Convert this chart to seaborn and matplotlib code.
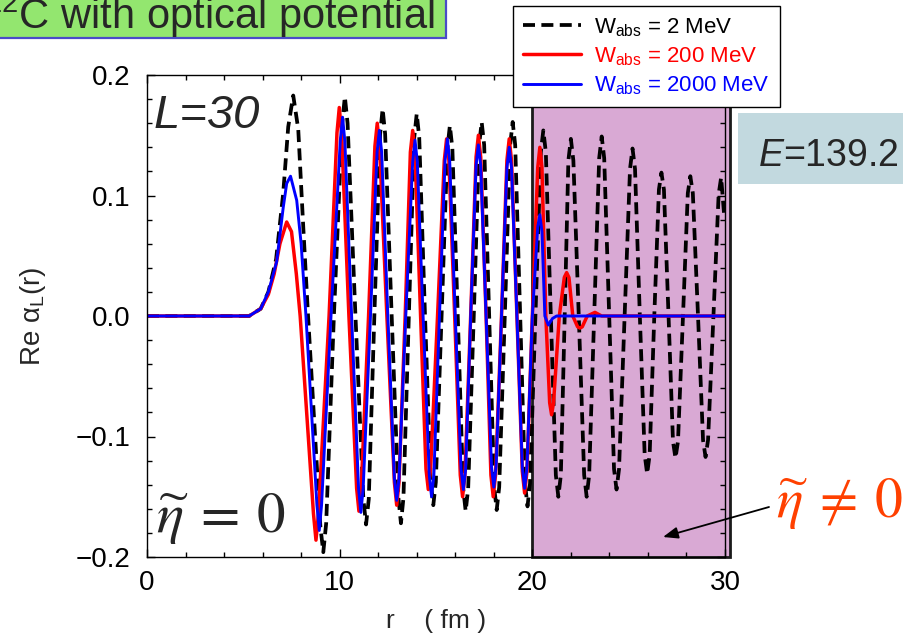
import numpy as np
import pandas as pd
import matplotlib
matplotlib.use("Agg")
import matplotlib.pyplot as plt
import seaborn as sns
from matplotlib.patches import Rectangle
from matplotlib.ticker import MultipleLocator

# ---- data (r in fm, Re alpha_L(r)) ----
r_w2 = [0, 5.3, 5.9, 6.3, 6.7, 7.07, 7.33, 7.59, 7.85, 8.11, 8.36, 9.0, 9.15, 9.3, 9.7,
        10.13, 10.27, 10.41, 10.82, 11.23, 11.37, 11.51, 11.8, 12.1, 12.23, 12.36, 12.7,
        13.05, 13.18, 13.31, 13.59, 13.87, 14.0, 14.13, 14.43, 14.73, 14.86, 14.99, 15.29,
        15.59, 15.72, 15.85, 16.13, 16.41, 16.54, 16.67, 16.96, 17.24, 17.37, 17.5, 17.76,
        18.02, 18.15, 18.28, 18.57, 18.85, 18.98, 19.11, 19.37, 19.62, 19.75, 19.88, 20.16,
        20.44, 20.57, 20.7, 20.96, 21.22, 21.35, 21.48, 21.68, 21.87, 22.0, 22.13, 22.41,
        22.69, 22.82, 22.95, 23.21, 23.47, 23.6, 23.73, 23.99, 24.24, 24.37, 24.5, 24.79,
        25.07, 25.2, 25.33, 25.58, 25.83, 25.96, 26.09, 26.33, 26.57, 26.7, 26.83, 27.07,
        27.3, 27.43, 27.56, 27.82, 28.07, 28.2, 28.33, 28.6, 28.86, 28.99, 29.12, 29.4,
        29.67, 29.8, 29.95]
v_w2 = [0, 0, 0.006, 0.02, 0.047, 0.102, 0.157, 0.183, 0.155, 0.074, 0.0, -0.175, -0.196, -0.172, 0.0,
        0.160, 0.182, 0.160, 0.0, -0.152, -0.173, -0.152, 0.0, 0.151, 0.172, 0.151, 0.0,
        -0.151, -0.172, -0.151, 0.0, 0.148, 0.168, 0.148, 0.0, -0.138, -0.157, -0.138, 0.0,
        0.139, 0.158, 0.139, 0.0, -0.143, -0.162, -0.143, 0.0, 0.142, 0.161, 0.142, 0.0,
        -0.142, -0.161, -0.142, 0.0, 0.142, 0.161, 0.142, 0.0, -0.139, -0.158, -0.139, 0.0,
        0.136, 0.154, 0.136, 0.0, -0.132, -0.150, -0.132, 0.0, 0.129, 0.147, 0.129, 0.0,
        -0.132, -0.150, -0.132, 0.0, 0.131, 0.149, 0.131, 0.0, -0.127, -0.144, -0.127, 0.0,
        0.122, 0.139, 0.122, 0.0, -0.115, -0.131, -0.115, 0.0, 0.105, 0.119, 0.105, 0.0,
        -0.104, -0.118, -0.104, 0.0, 0.102, 0.116, 0.102, 0.0, -0.103, -0.117, -0.103, 0.0,
        0.101, 0.115, 0.085]

r_w200 = [0, 5.3, 5.9, 6.3, 6.6, 6.9, 7.25, 7.5, 7.75, 7.95, 8.64, 8.77, 8.9, 9.45,
          9.86, 9.98, 10.1, 10.48, 10.88, 11.0, 11.12, 11.5, 11.83, 11.95, 12.07, 12.45,
          12.84, 12.96, 13.08, 13.4, 13.67, 13.79, 13.91, 14.2, 14.48, 14.6, 14.72, 15.08,
          15.43, 15.55, 15.67, 15.97, 16.26, 16.38, 16.5, 16.8, 17.08, 17.2, 17.32, 17.6,
          17.85, 17.97, 18.09, 18.4, 18.68, 18.8, 18.92, 19.2, 19.48, 19.6, 19.72, 20.0,
          20.28, 20.39, 20.5, 20.7, 20.9, 21.0, 21.1, 21.4, 21.66, 21.78, 21.9, 22.1,
          22.35, 22.47, 22.59, 22.85, 23.25, 23.6, 30.0]
v_w200 = [0, 0, 0.006, 0.018, 0.035, 0.06, 0.078, 0.07, 0.035, 0.0, -0.164, -0.186, -0.164, 0.0,
          0.152, 0.173, 0.152, 0.0, -0.143, -0.162, -0.143, 0.0, 0.141, 0.160, 0.141, 0.0,
          -0.138, -0.157, -0.138, 0.0, 0.136, 0.154, 0.136, 0.0, -0.127, -0.144, -0.127, 0.0,
          0.129, 0.147, 0.129, 0.0, -0.132, -0.150, -0.132, 0.0, 0.132, 0.150, 0.132, 0.0,
          -0.132, -0.150, -0.132, 0.0, 0.129, 0.147, 0.129, 0.0, -0.129, -0.147, -0.129, 0.0,
          0.123, 0.140, 0.123, 0.0, -0.072, -0.082, -0.072, 0.0, 0.032, 0.036, 0.032, 0.0,
          -0.009, -0.010, -0.009, 0.0, 0.003, 0.0, 0.0]

r_w2000 = [0, 5.3, 5.9, 6.3, 6.73, 7.07, 7.25, 7.45, 7.77, 8.0, 8.25, 8.82, 8.94, 9.06, 9.55,
           10.03, 10.15, 10.27, 10.62, 10.98, 11.1, 11.22, 11.6, 11.94, 12.06, 12.18, 12.5,
           12.84, 12.96, 13.08, 13.43, 13.79, 13.91, 14.03, 14.33, 14.65, 14.77, 14.89, 15.18,
           15.47, 15.59, 15.71, 16.0, 16.3, 16.42, 16.54, 16.8, 17.08, 17.2, 17.32, 17.6,
           17.88, 18.0, 18.12, 18.4, 18.68, 18.8, 18.92, 19.2, 19.48, 19.6, 19.72, 20.0,
           20.28, 20.39, 20.5, 20.65, 20.83, 21.05, 21.26, 30.0]
v_w2000 = [0, 0, 0.006, 0.02, 0.045, 0.09, 0.11, 0.116, 0.096, 0.06, 0.0, -0.157, -0.178, -0.157, 0.0,
           0.145, 0.165, 0.145, 0.0, -0.143, -0.163, -0.143, 0.0, 0.136, 0.154, 0.136, 0.0,
           -0.135, -0.153, -0.135, 0.0, 0.128, 0.146, 0.128, 0.0, -0.132, -0.150, -0.132, 0.0,
           0.129, 0.147, 0.129, 0.0, -0.127, -0.144, -0.127, 0.0, 0.125, 0.142, 0.125, 0.0,
           -0.125, -0.142, -0.125, 0.0, 0.123, 0.140, 0.123, 0.0, -0.126, -0.143, -0.126, 0.0,
           0.074, 0.084, 0.070, 0.0, -0.0075, -0.002, 0.0, 0.0]

labels = [r"W$_{\rm abs}$ = 2 MeV", r"W$_{\rm abs}$ = 200 MeV", r"W$_{\rm abs}$ = 2000 MeV"]
x_ticks = [0, 10, 20, 30]
y_ticks = [-0.2, -0.1, 0.0, 0.1, 0.2]
y_ticklabels = ["\u22120.2", "\u22120.1", "0.0", "0.1", "0.2"]

# ---- style ----
sns.set_style("ticks")
plt.rcParams["font.family"] = ["Liberation Sans", "DejaVu Sans"]
plt.rcParams["mathtext.fontset"] = "custom"
plt.rcParams["mathtext.rm"] = "Liberation Sans"
plt.rcParams["mathtext.it"] = "Liberation Sans:italic"

W, H = 904, 637
fig = plt.figure(figsize=(W / 100, H / 100), dpi=100)
ax = fig.add_axes([147 / W, 1 - 557 / H, (725 - 147) / W, (557 - 75) / H])

# shaded region (behind curves)
ax.add_patch(Rectangle((20.0, -0.2), 10.25, 0.4, facecolor="#d9a9d4", edgecolor="#1a1a1a",
                       lw=2.0, clip_on=False, zorder=0.5))

df2 = pd.DataFrame({"r": r_w2, "v": v_w2})
df200 = pd.DataFrame({"r": r_w200, "v": v_w200})
df2000 = pd.DataFrame({"r": r_w2000, "v": v_w2000})

sns.lineplot(data=df2, x="r", y="v", ax=ax, color="black", lw=2.7, linestyle=(0, (3.2, 1.7)),
             label=labels[0], estimator=None, zorder=2)
sns.lineplot(data=df200, x="r", y="v", ax=ax, color="#ff0000", lw=2.5,
             label=labels[1], estimator=None, zorder=3)
sns.lineplot(data=df2000, x="r", y="v", ax=ax, color="#0000ff", lw=2.1,
             label=labels[2], estimator=None, zorder=4)

ax.set_xlim(0, 30)
ax.set_ylim(-0.2, 0.2)
ax.set_xticks(x_ticks)
ax.set_yticks(y_ticks)
ax.set_yticklabels(y_ticklabels)
ax.xaxis.set_minor_locator(MultipleLocator(2))
ax.yaxis.set_minor_locator(MultipleLocator(0.02))
ax.tick_params(which="both", direction="in", top=True, right=True, width=1.0, colors="black")
ax.tick_params(which="major", length=6, labelsize=20)
ax.tick_params(which="minor", length=3.5)
ax.tick_params(axis="y", pad=12)
ax.tick_params(axis="x", pad=9)
for s in ax.spines.values():
    s.set_linewidth(1.0)
    s.set_color("black")
    s.set_zorder(6)

ax.set_xlabel("r    ( fm )", fontsize=19, labelpad=10)
ax.set_ylabel(r"Re α$_{\rm L}$(r)", fontsize=20, labelpad=20)

# legend in figure coordinates
handles, labs = ax.get_legend_handles_labels()
ax.get_legend().remove()
leg = fig.legend(handles, labs, loc="upper left", bbox_to_anchor=(513 / W, 1 - 6 / H),
                 fontsize=16, frameon=True, fancybox=False, framealpha=1, edgecolor="black",
                 handlelength=2.6, handletextpad=0.6, labelspacing=0.3, borderpad=0.45,
                 borderaxespad=0)
leg.get_frame().set_linewidth(1.0)
for t, c in zip(leg.get_texts(), ["black", "#ff0000", "#0000ff"]):
    t.set_color(c)

# annotations inside axes
ax.text(0.012, 0.96, "L=30", transform=ax.transAxes, fontsize=34, style="italic",
        ha="left", va="top", zorder=7)
ax.text(0.016, 0.05, r"$\widetilde{\eta}\:=\:0$", transform=ax.transAxes, fontsize=41,
        math_fontfamily="stix", ha="left", va="baseline", zorder=7)

# title box (top left)
fig.patches.append(Rectangle((-0.01, 1 - 38 / H), 446 / W + 0.01, 38 / H + 0.01,
                             transform=fig.transFigure, facecolor="#93e66f",
                             edgecolor="#4a4ac8", lw=1.6, figure=fig, zorder=0))
fig.text(-15 / W, 1 - 29 / H, r"$^{12}$C with optical potential", fontsize=30,
         ha="left", va="baseline")

# energy box (right)
fig.patches.append(Rectangle((738 / W, 1 - 184 / H), (W - 738) / W + 0.01, 71 / H,
                             transform=fig.transFigure, facecolor="#c2d9df",
                             edgecolor="none", figure=fig, zorder=0))
fig.text(758 / W, 1 - 166 / H, r"$E$=139.2", fontsize=27, ha="left", va="baseline")

# eta != 0 with arrow
fig.text(776 / W, 1 - 517 / H, r"$\widetilde{\eta}\:\neq\:0$", fontsize=40, color="#ff4000",
         math_fontfamily="stix", ha="left", va="baseline")
ax.annotate("", xy=(663 / W, 1 - 537 / H), xycoords="figure fraction",
            xytext=(769 / W, 1 - 507 / H), textcoords="figure fraction",
            arrowprops=dict(arrowstyle="-|>,head_length=0.9,head_width=0.35", color="black",
                            lw=1.3, shrinkA=0, shrinkB=0), annotation_clip=False, zorder=8)

fig.savefig("out.png", dpi=100)
